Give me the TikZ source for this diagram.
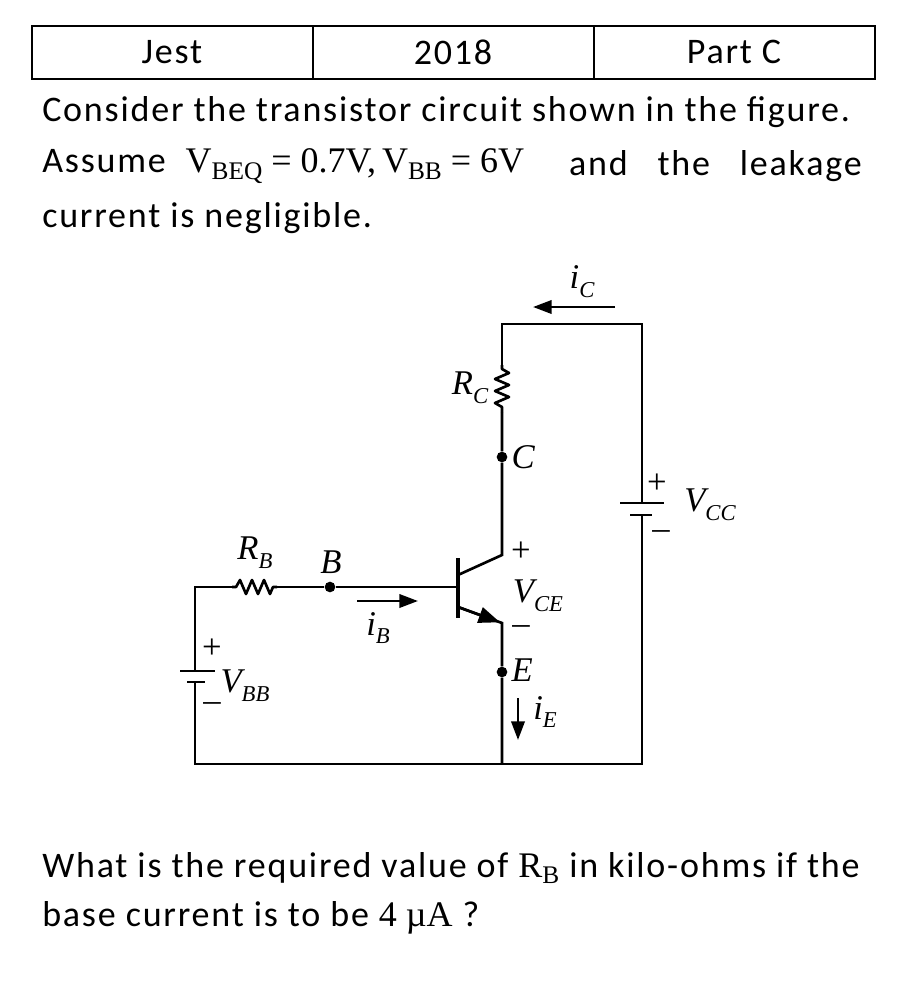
\documentclass[tikz,border=0pt]{standalone}
\usepackage{amsmath}
\usepackage{fontspec}
\setmainfont{Carlito}[LetterSpace=5]
\newfontfamily\tms{Liberation Serif}
\usetikzlibrary{arrows.meta,positioning}
\newcommand{\lbl}[2]{{\tms\itshape #1\raisebox{-0.55ex}{\fontsize{17}{17}\selectfont #2}}}
\newcommand{\msub}[2]{{\tms #1\raisebox{-0.4ex}{\fontsize{19}{19}\selectfont #2}}}
\tikzset{
  wire/.style={line width=2pt},
  cur/.style={line width=2pt,-{Triangle[length=14pt,width=10pt]}},
  dot/.style={circle,fill,inner sep=0pt,minimum size=8pt},
  txt/.style={font=\fontsize{27}{27}\selectfont,inner sep=0pt},
  cl/.style={font=\fontsize{26}{26}\selectfont,inner sep=1pt},
}
\begin{document}
\begin{tikzpicture}[x=0.75pt,y=-0.75pt]
        \useasboundingbox (0,0) rectangle (907,981);
        % Header table
        \draw[line width=0.8pt] (32,26) rectangle (875,79);
        \draw[line width=0.8pt] (313,26) -- (313,79) (594,26) -- (594,79);
        \node[txt] (jest) at (172,52) {Jest};
        \node[txt] (year) at (453,52) {2018};
        \node[txt] (part) at (734,52) {Part C};

        % Question text
        \node[txt,anchor=west] (q1) at (42,112) {Consider the transistor circuit shown in the figure.};
        \node[txt,anchor=west] (q2a) at (42,166) {Assume \ \msub{V}{BEQ}{\tms\ = 0.7V,}\,\msub{V}{BB}{\tms\ = 6V}};
        \node[txt,anchor=east] (q2b) at (862,166) {and \ \ the \ \ leakage};
        \node[txt,anchor=west] (q3) at (42,218) {current is negligible.};
        \node[txt,anchor=west] (q4) at (42,868) {What is the required value of \msub{R}{B} in kilo-ohms if the};
        \node[txt,anchor=west] (q5) at (42,918) {base current is to be {\tms 4 µA} ?};

        % Circuit corners
        \coordinate (tl) at (502,324);
        \coordinate (tr) at (642,324);
        \coordinate (br) at (642,764);
        \coordinate (bm) at (502,764);
        \coordinate (bl) at (195,764);
        \coordinate (ul) at (195,587);
        \node[dot] (B) at (330,587) {};
        \node[dot] (C) at (502,457) {};
        \node[dot] (E) at (502,672) {};

        % Outer loop and collector branch
        \draw[wire] (502,365) -- (tl) -- (tr) -- (642,503);
        \draw[wire] (642,515) -- (br) -- (bl) -- (195,682);
        \draw[wire] (195,671) -- (ul) -- (232,587);
        \draw[wire] (277,587) -- (B) -- (458,587);
        \draw[wire] (502,412) -- (C) -- (502,555) -- (458,575);
        \draw[wire] (458,607) -- (502,623) -- (E) -- (bm);
        \draw[-{Triangle[length=16pt,width=12pt]},line width=2pt] (458,607) -- (500,622.3);
        \draw[line width=2.5pt] (458,558) -- (458,618);

        % Resistors
        \draw[wire,line join=round] (502,365) -- (502,369) -- (509,373) -- (495,379) -- (509,385) -- (495,391)
              -- (509,397) -- (495,403) -- (502,407) -- (502,412);
        \draw[wire,line join=round] (232,587) -- (236,587) -- (240,580) -- (246,594) -- (252,580) -- (258,594)
              -- (264,580) -- (270,594) -- (273,587) -- (277,587);

        % Batteries
        \draw[wire] (620,503) -- (664,503) (630,515) -- (652,515);
        \draw[wire] (180,671) -- (215,671) (187,682) -- (205,682);

        % Current arrows
        \draw[cur] (615,307) -- (533,307);
        \draw[cur] (357,601) -- (418,601);
        \draw[cur] (518,698) -- (518,740);

        % Labels
        \node[cl] (lic) at (582,282) {\lbl{i}{C}};
        \node[cl] (lrc) at (470,388) {\lbl{R}{C}};
        \node[cl,anchor=west] (lc) at (510,457) {\tms\itshape C};
        \node[cl] (lvcc) at (710,505) {\lbl{V}{CC}};
        \node[cl] at (657,484) {\tms +};
        \node[cl] at (661,535) {\tms –};
        \node[cl] (lrb) at (255,553) {\lbl{R}{B}};
        \node[cl] (lb) at (331,562) {\tms\itshape B};
        \node[cl] (lib) at (378,628) {\lbl{i}{B}};
        \node[cl] at (521,552) {\tms +};
        \node[cl] (lvce) at (538,596) {\lbl{V}{CE}};
        \node[cl] at (521,630) {\tms –};
        \node[cl,anchor=west] (le) at (510,670) {\tms\itshape E};
        \node[cl] (lie) at (545,712) {\lbl{i}{E}};
        \node[cl] at (212,649) {\tms +};
        \node[cl] (lvbb) at (245,686) {\lbl{V}{BB}};
        \node[cl] at (212,707) {\tms –};
    \end{tikzpicture}
\end{document}
